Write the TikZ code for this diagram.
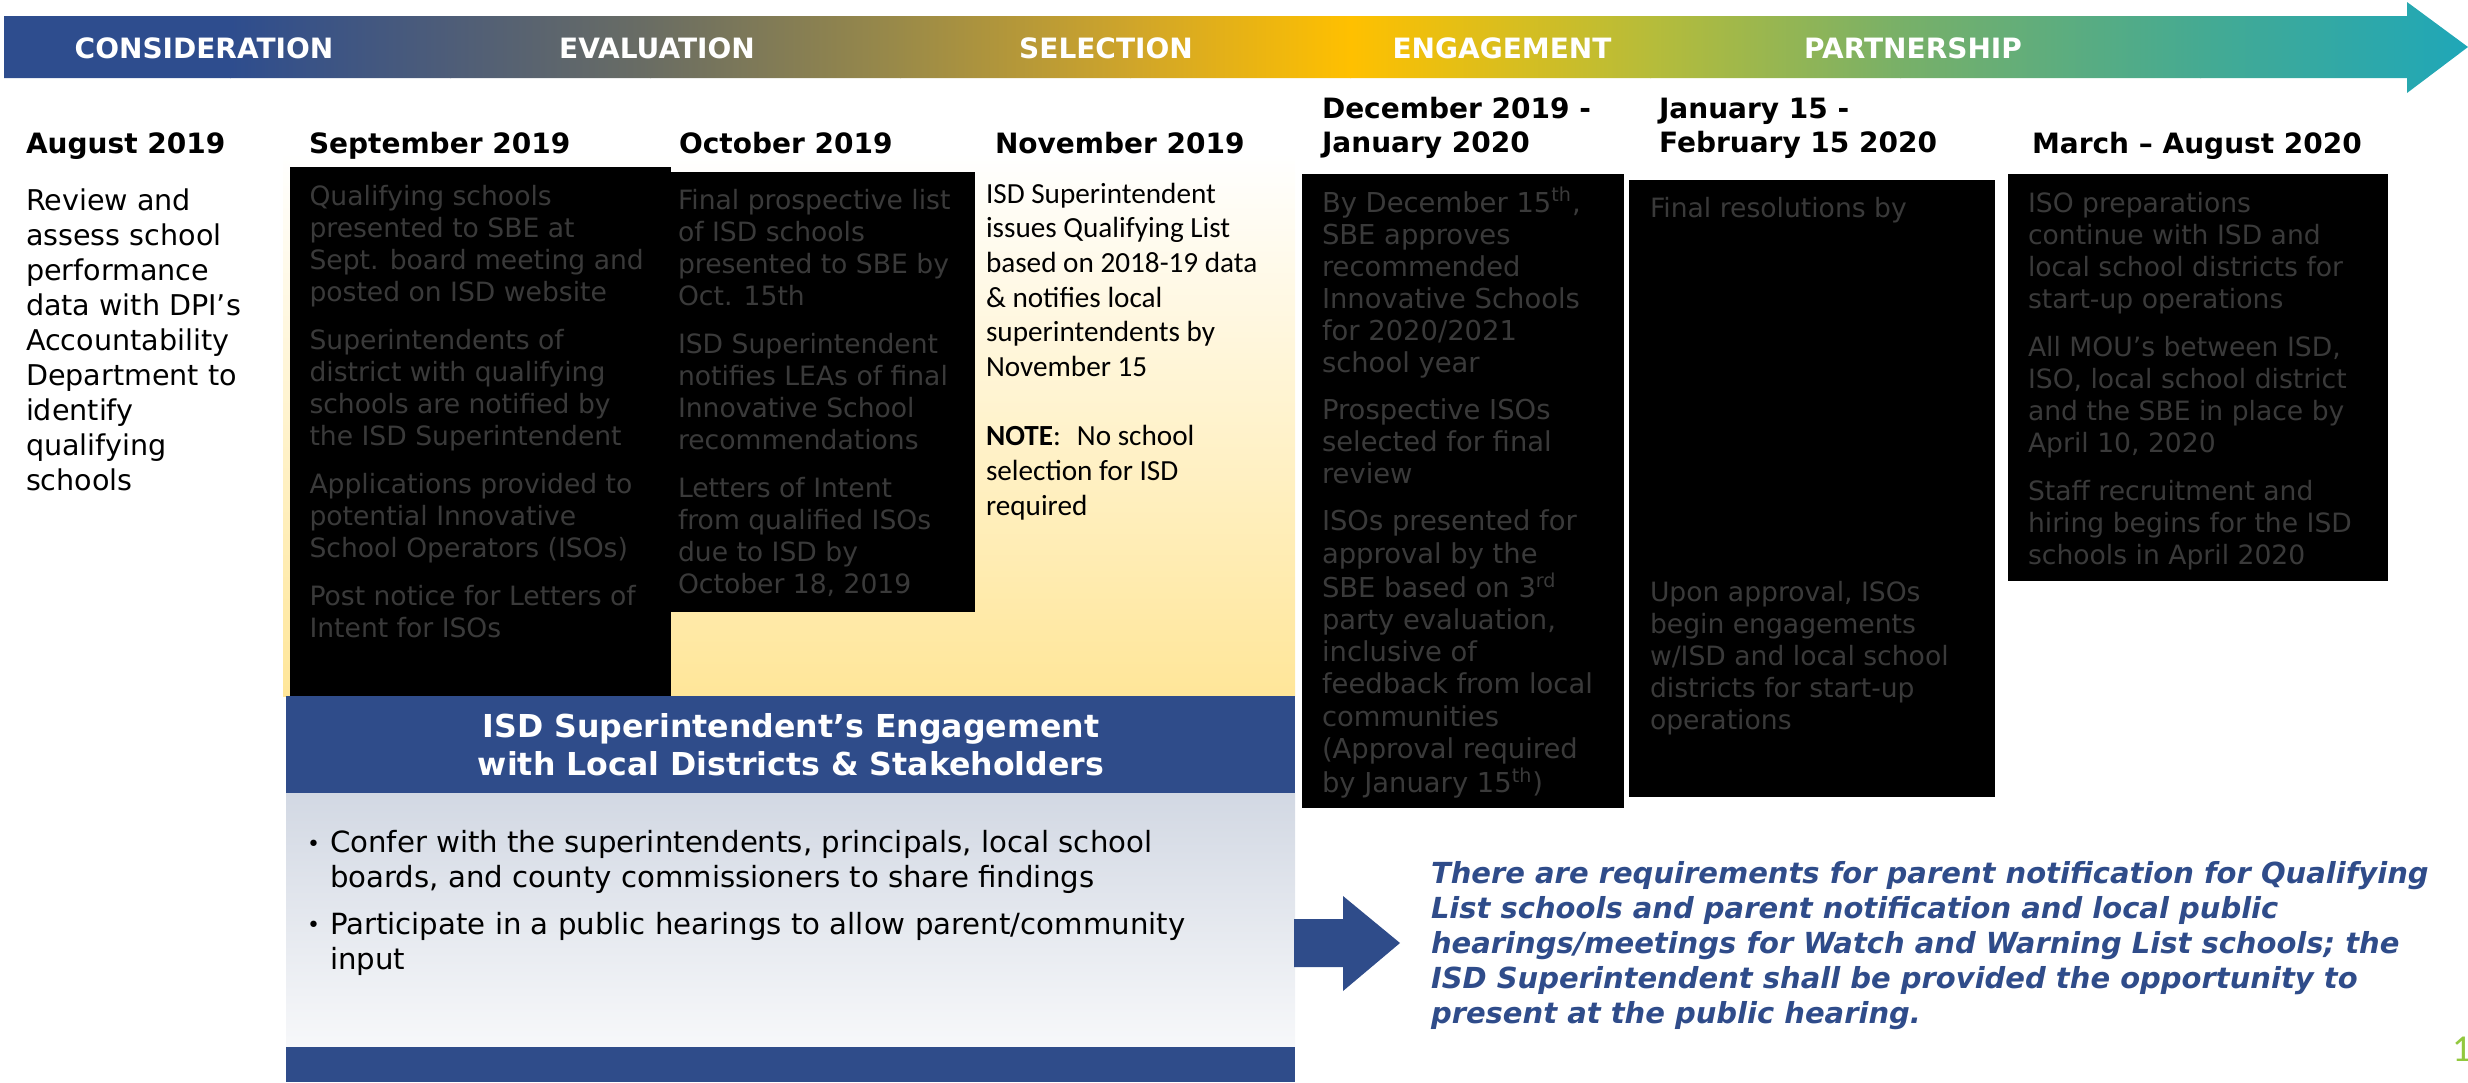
\documentclass[tikz,border=0pt]{standalone}
\usepackage{fontspec}
\setmainfont{DejaVu Sans}
\newfontfamily\carl{Carlito}
\definecolor{navy}{HTML}{2F4C8A}
\definecolor{boxtxt}{HTML}{3A3A3A}
\definecolor{yel}{HTML}{FFE699}
\definecolor{pgreen}{HTML}{92C83E}
\definecolor{panTop}{HTML}{D2D8E3}
\definecolor{panBot}{HTML}{F7F8FA}
\definecolor{g0}{HTML}{2E4D8E}
\definecolor{g1}{HTML}{4E5D78}
\definecolor{g2}{HTML}{6A6D63}
\definecolor{g3}{HTML}{9A8A48}
\definecolor{g4}{HTML}{CFA52A}
\definecolor{g5}{HTML}{FFC000}
\definecolor{g6}{HTML}{B6BC3A}
\definecolor{g7}{HTML}{78B068}
\definecolor{g8}{HTML}{45AA92}
\definecolor{g9}{HTML}{1FA7B8}
\newcommand\mylines[1]{\begin{tabular}[t]{@{}l@{}}#1\end{tabular}}
\tikzset{
  txt/.style={anchor=base west, inner sep=0pt, outer sep=0pt},
  phase/.style={anchor=center, inner sep=0pt, text=white, font=\bfseries\fontsize{14}{17}\selectfont},
  head/.style={txt, font=\bfseries\fontsize{14}{17}\selectfont},
  boxtext/.style={txt, text=boxtxt, font=\fontsize{13.3}{16}\selectfont},
  bullettext/.style={txt, font=\fontsize{14.6}{17.5}\selectfont},
  bulletdot/.style={txt, font=\fontsize{11}{17.5}\selectfont},
  blackbox/.style={fill=black},
}
\begin{document}
\begin{tikzpicture}[x=0.5pt,y=-0.5pt]
\useasboundingbox (0,0) rectangle (2468,1082);
% banner arrow
\begin{scope}
\clip (4,16) -- (2407,16) -- (2407,2) -- (2468,47) -- (2407,93) -- (2407,78) -- (4,78) -- cycle;
\fill[g0] (0,0) rectangle (231,100);
\shade[left color=g0,right color=g1] (230,0) rectangle (451,100);
\shade[left color=g1,right color=g2] (450,0) rectangle (651,100);
\shade[left color=g2,right color=g3] (650,0) rectangle (901,100);
\shade[left color=g3,right color=g4] (900,0) rectangle (1131,100);
\shade[left color=g4,right color=g5] (1130,0) rectangle (1351,100);
\shade[left color=g5,right color=g6] (1350,0) rectangle (1651,100);
\shade[left color=g6,right color=g7] (1650,0) rectangle (1901,100);
\shade[left color=g7,right color=g8] (1900,0) rectangle (2201,100);
\shade[left color=g8,right color=g9] (2200,0) rectangle (2468,100);
\end{scope}
\node[phase] (p1) at (204,48.5) {CONSIDERATION};
\node[phase] (p2) at (657,48.5) {EVALUATION};
\node[phase] (p3) at (1106,48.5) {SELECTION};
\node[phase] (p4) at (1502,48.5) {ENGAGEMENT};
\node[phase] (p5) at (1913,48.5) {PARTNERSHIP};
% yellow background
\shade[top color=white, bottom color=yel] (283,153) rectangle (1295,696);
% black boxes
\fill[blackbox] (290,167) rectangle (671,696);
\fill[blackbox] (671,172) rectangle (975,612);
\fill[blackbox] (1302,174) rectangle (1624,808);
\fill[blackbox] (1629,180) rectangle (1995,797);
\fill[blackbox] (2008,174) rectangle (2388,581);
% headings
\node[head] (h1) at (26,153) {August 2019};
\node[head] (h2) at (309,153) {September 2019};
\node[head] (h3) at (679,153) {October 2019};
\node[head] (h4) at (995,153) {November 2019};
\node[head] (h5) at (1322,118) {\mylines{December 2019 -\\January 2020}};
\node[head] (h6) at (1659,118) {\mylines{January 15 -\\February 15 2020}};
\node[head] (h7) at (2032,153) {March – August 2020};
% August
\node[txt, font=\fontsize{14.3}{17.5}\selectfont] (aug) at (26,210) {\mylines{Review and\\assess school\\performance\\data with DPI’s\\Accountability\\Department to\\identify\\qualifying\\schools}};
% September
\node[boxtext] (sep) at (309.5,205) {\mylines{Qualifying schools\\presented to SBE at\\Sept. board meeting and\\posted on ISD website\\[8pt]Superintendents of\\district with qualifying\\schools are notified by\\the ISD Superintendent\\[8pt]Applications provided to\\potential Innovative\\School Operators (ISOs)\\[8pt]Post notice for Letters of\\Intent for ISOs}};
% October
\node[boxtext] (oct) at (678,209) {\mylines{Final prospective list\\of ISD schools\\presented to SBE by\\Oct. 15th\\[8pt]ISD Superintendent\\notifies LEAs of final\\Innovative School\\recommendations\\[8pt]Letters of Intent\\from qualified ISOs\\due to ISD by\\October 18, 2019}};
% November
\node[txt, font=\carl\fontsize{14.6}{17.35}\selectfont] (nov) at (986,203) {\mylines{ISD Superintendent\\issues Qualifying List\\based on 2018-19 data\\\& notifies local\\superintendents by\\November 15\\ \\\textbf{NOTE}:\hspace{0.55em}No school\\selection for ISD\\required}};
% December
\node[txt, text=boxtxt, font=\fontsize{13.7}{16.05}\selectfont] (dec) at (1322,212) {\mylines{By December 15\textsuperscript{th},\\SBE approves\\recommended\\Innovative Schools\\for 2020/2021\\school year\\[7.5pt]Prospective ISOs\\selected for final\\review\\[7.5pt]ISOs presented for\\approval by the\\SBE based on 3\textsuperscript{rd}\\party evaluation,\\inclusive of\\feedback from local\\communities\\(Approval required\\by January 15\textsuperscript{th})}};
% Jan-Feb
\node[boxtext] (jan1) at (1650,217) {Final resolutions by};
\node[boxtext] (jan2) at (1650,601) {\mylines{Upon approval, ISOs\\begin engagements\\w/ISD and local school\\districts for start-up\\operations}};
% March
\node[boxtext] (mar) at (2028,212) {\mylines{ISO preparations\\continue with ISD and\\local school districts for\\start-up operations\\[8pt]All MOU’s between ISD,\\ISO, local school district\\and the SBE in place by\\April 10, 2020\\[8pt]Staff recruitment and\\hiring begins for the ISD\\schools in April 2020}};
% bottom panel
\fill[navy] (286,696) rectangle (1295,793);
\shade[top color=panTop, bottom color=panBot] (286,793) rectangle (1295,1047);
\fill[navy] (286,1047) rectangle (1295,1082);
\node[anchor=base, inner sep=0pt, text=white, font=\bfseries\fontsize{15.8}{19}\selectfont] (ph) at (791,737) {\begin{tabular}[t]{@{}c@{}}ISD Superintendent’s Engagement\\with Local Districts \& Stakeholders\end{tabular}};
\node[bulletdot] (b1dot) at (307,851) {•};
\node[bullettext] (b1) at (330,852.7) {\mylines{Confer with the superintendents, principals, local school\\boards, and county commissioners to share findings}};
\node[bulletdot] (b2dot) at (307,932.3) {•};
\node[bullettext] (b2) at (330,934) {\mylines{Participate in a public hearings to allow parent/community\\input}};
% block arrow
\fill[navy] (1294,919) -- (1343,919) -- (1343,896) -- (1400,943) -- (1343,991) -- (1343,967) -- (1294,967) -- cycle;
\node[txt, text=navy, font=\bfseries\itshape\fontsize{14.5}{17.5}\selectfont] (note) at (1431,883) {\mylines{There are requirements for parent notification for Qualifying\\List schools and parent notification and local public\\hearings/meetings for Watch and Warning List schools; the\\ISD Superintendent shall be provided the opportunity to\\present at the public hearing.}};
\node[txt, text=pgreen, font=\carl\fontsize{19}{20}\selectfont] (pg) at (2452,1061) {1};
\end{tikzpicture}
\end{document}
